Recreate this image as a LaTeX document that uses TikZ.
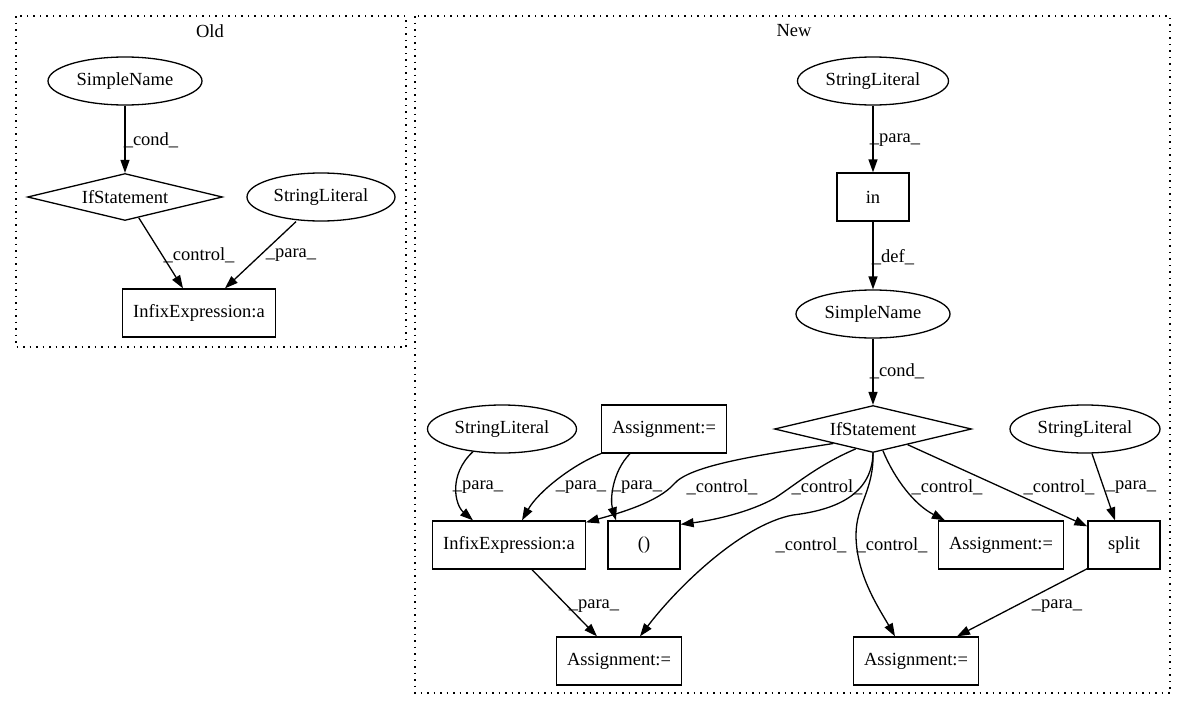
\documentclass[tikz,border=0pt]{standalone}
\usepackage{fontspec}
\setmainfont{Liberation Serif}
\usetikzlibrary{shapes.geometric}
\usetikzlibrary{arrows.meta}
\usetikzlibrary{calc}
\usetikzlibrary{positioning}
\tikzset{
    myellipse/.style = {ellipse, draw=black, line width=1.3pt, minimum width=150pt, minimum height=48pt, inner sep=0pt},
    mybox/.style = {rectangle, draw=black, line width=1.3pt, minimum width=72pt, minimum height=48pt, inner xsep=10.5pt},
    mydiamond/.style = {diamond, aspect=4.2, draw=black, line width=1.3pt, minimum width=196pt, minimum height=47pt, inner sep=0pt},
    mylabel/.style = {inner sep=0pt},
    myedge/.style = {line width=1.3pt, -{Triangle[length=13pt,width=9pt]}},
    mycluster/.style = {draw=black, line width=1.3pt, dash pattern=on 1.5pt off 5pt},
}

\begin{document}
\begin{tikzpicture}[x=1pt, y=-1pt, font=\fontsize{18.5}{22}\selectfont]
  \useasboundingbox (0,0) rectangle (1187,712);
  % clusters
  \draw[mycluster] (16,16) rectangle (406,347);
  \draw[mycluster] (415,16) rectangle (1170,693);
  \node (oldtitle) at (210,31) {Old};
  \node (newtitle) at (794,31) {New};

  % old
  \node[myellipse, minimum width=154pt] (osn) at (125,81) {SimpleName};
  \node[mydiamond, minimum width=195pt] (oif) at (125,197) {IfStatement};
  \node[myellipse, minimum width=148pt] (osl) at (321,197) {StringLiteral};
  \node[mybox] (oinf) at (199,313) {InfixExpression:a};

  \draw[myedge] (osn) -- (oif);
  \draw[myedge] ($(oif.south)!0.28!(oif.south east)$) -- ([xshift=-16pt]oinf.north);
  \draw[myedge] ([xshift=-25pt]osl.south) -- ([xshift=26pt]oinf.north);
  \node[mylabel] (lo1) at (151,140) {\_cond\_};
  \node[mylabel] (lo2) at (199,255) {\_control\_};
  \node[mylabel] (lo3) at (291,255) {\_para\_};

  % new
  \node[myellipse, minimum width=151pt] (nsl) at (873,81) {StringLiteral};
  \node[mybox] (nin) at (873,197) {in};
  \node[myellipse, minimum width=154pt] (nsn) at (873,314) {SimpleName};
  \node[mydiamond, minimum width=197pt] (nif) at (873,429) {IfStatement};
  \node[myellipse, minimum width=149pt] (lsl) at (502,429) {StringLiteral};
  \node[mybox] (atop) at (664,429) {Assignment:=};
  \node[myellipse] (rsl) at (1085,429) {StringLiteral};
  \node[mybox] (ninf) at (509,545) {InfixExpression:a};
  \node[mybox] (nparen) at (644,545) {()};
  \node[mybox] (amr) at (1001,545) {Assignment:=};
  \node[mybox] (nsplit) at (1124,545) {split};
  \node[mybox] (abl) at (619,661) {Assignment:=};
  \node[mybox] (abr) at (916,661) {Assignment:=};

  \draw[myedge] (nsl) -- (nin);
  \draw[myedge] (nin) -- (nsn);
  \draw[myedge] (nsn) -- (nif);
  \draw[myedge] (lsl.218) .. controls (448,475) and (455,505) .. ([xshift=-36pt]ninf.north);
  \draw[myedge] (atop.south west) .. controls (572,465) and (538,492) .. ([xshift=13pt]ninf.north);
  \draw[myedge] ([xshift=-34pt]atop.south) .. controls (612,472) and (610,500) .. ([xshift=-28pt]nparen.north);
  \draw[myedge] ($(nif.south west)!0.2!(nif.south)$) .. controls (760,455) and (690,465) .. (674,484)
    .. controls (658,502) and (620,513) .. ([yshift=-2pt]ninf.north east);
  \draw[myedge] ($(nif.south west)!0.65!(nif.south)$) .. controls (818,465) and (795,485) .. (775,498)
    .. controls (750,512) and (715,520) .. ([yshift=-4pt]nparen.north east);
  \draw[myedge] (nif.south) .. controls (872,495) and (835,510) .. (793,515)
    .. controls (740,525) and (675,590) .. ([xshift=21pt]abl.north);
  \draw[myedge] (nif.south) .. controls (874,490) and (856,505) .. (856,535)
    .. controls (856,575) and (880,610) .. ([xshift=-21pt]abr.north);
  \draw[myedge] ($(nif.south)!0.2!(nif.south east)$) .. controls (895,480) and (915,505) .. ([xshift=7pt]amr.north west);
  \draw[myedge] ($(nif.south)!0.7!(nif.south east)$) -- ([yshift=-6pt]nsplit.north west);
  \draw[myedge] ([xshift=7pt]rsl.south) -- ([xshift=-9pt]nsplit.north);
  \draw[myedge] ([xshift=23pt]ninf.south) -- ([xshift=-22pt]abl.north);
  \draw[myedge] ([yshift=1pt]nsplit.south west) -- ([xshift=41pt]abr.north);

  \node[mylabel] (ln1) at (895,140) {\_para\_};
  \node[mylabel] (ln2) at (893,257) {\_def\_};
  \node[mylabel] (ln3) at (897,371) {\_cond\_};
  \node[mylabel] (ln4) at (478,487) {\_para\_};
  \node[mylabel] (ln5) at (581,487) {\_para\_};
  \node[mylabel] (ln6) at (637,487) {\_para\_};
  \node[mylabel] (ln7) at (722,487) {\_control\_};
  \node[mylabel] (ln8) at (827,487) {\_control\_};
  \node[mylabel] (ln9) at (947,487) {\_control\_};
  \node[mylabel] (ln10) at (1059,487) {\_control\_};
  \node[mylabel] (ln11) at (1131,487) {\_para\_};
  \node[mylabel] (ln12) at (811,545) {\_control\_};
  \node[mylabel] (ln13) at (892,545) {\_control\_};
  \node[mylabel] (ln14) at (594,606) {\_para\_};
  \node[mylabel] (ln15) at (1057,606) {\_para\_};
\end{tikzpicture}
\end{document}
